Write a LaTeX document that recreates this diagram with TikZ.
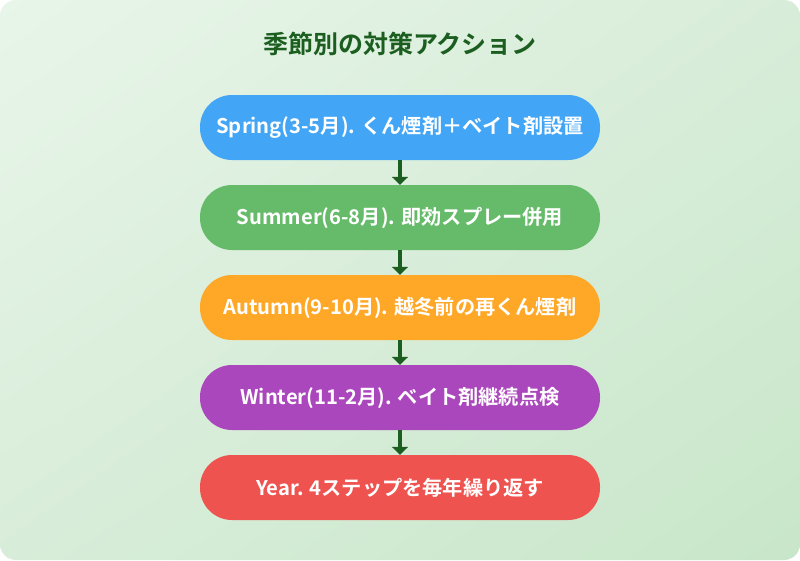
\documentclass[tikz,border=0pt]{standalone}
\usepackage{fontspec}
\setmainfont{Noto Sans CJK JP}[BoldFont={* Bold}]
\usetikzlibrary{arrows.meta,shadings}
\definecolor{bgA}{HTML}{E8F5E9}
\definecolor{bgB}{HTML}{C8E6C9}
\definecolor{bgM}{HTML}{D8EDD9}
\definecolor{dgreen}{HTML}{1B5E20}
\definecolor{cblue}{HTML}{42A5F5}
\definecolor{cgreen}{HTML}{66BB6A}
\definecolor{corange}{HTML}{FFA726}
\definecolor{cpurple}{HTML}{AB47BC}
\definecolor{cred}{HTML}{EF5350}
\tikzset{
  stepbox/.style={rectangle, rounded corners=32pt, minimum width=400pt, minimum height=65pt,
    inner sep=0pt, text=white, font=\bfseries\fontsize{20.2}{24}\selectfont},
  flowarrow/.style={draw=dgreen, line width=3.5pt, -{Triangle[width=16pt,length=8pt]}}
}
\begin{document}
\begin{tikzpicture}[x=1pt,y=-1pt]
\useasboundingbox (0,0) rectangle (800,560);
\fill[white] (0,0) rectangle (800,560);
\shade[rounded corners=16pt, upper left=bgA, lower right=bgB, upper right=bgM, lower left=bgM] (0,0) rectangle (800,560);
\node[text=dgreen, font=\bfseries\fontsize{25}{30}\selectfont] (title) at (400,44) {季節別の対策アクション};
\node[stepbox, fill=cblue] (s1) at (400,127.5) {Spring(3-5月). くん煙剤＋ベイト剤設置};
\node[stepbox, fill=cgreen] (s2) at (400,217.5) {Summer(6-8月). 即効スプレー併用};
\node[stepbox, fill=corange] (s3) at (400,307.5) {Autumn(9-10月). 越冬前の再くん煙剤};
\node[stepbox, fill=cpurple] (s4) at (400,397.5) {Winter(11-2月). ベイト剤継続点検};
\node[stepbox, fill=cred] (s5) at (400,487.5) {Year. 4ステップを毎年繰り返す};
\draw[flowarrow] (s1.south) -- (s2.north);
\draw[flowarrow] (s2.south) -- (s3.north);
\draw[flowarrow] (s3.south) -- (s4.north);
\draw[flowarrow] (s4.south) -- (s5.north);
\end{tikzpicture}
\end{document}
